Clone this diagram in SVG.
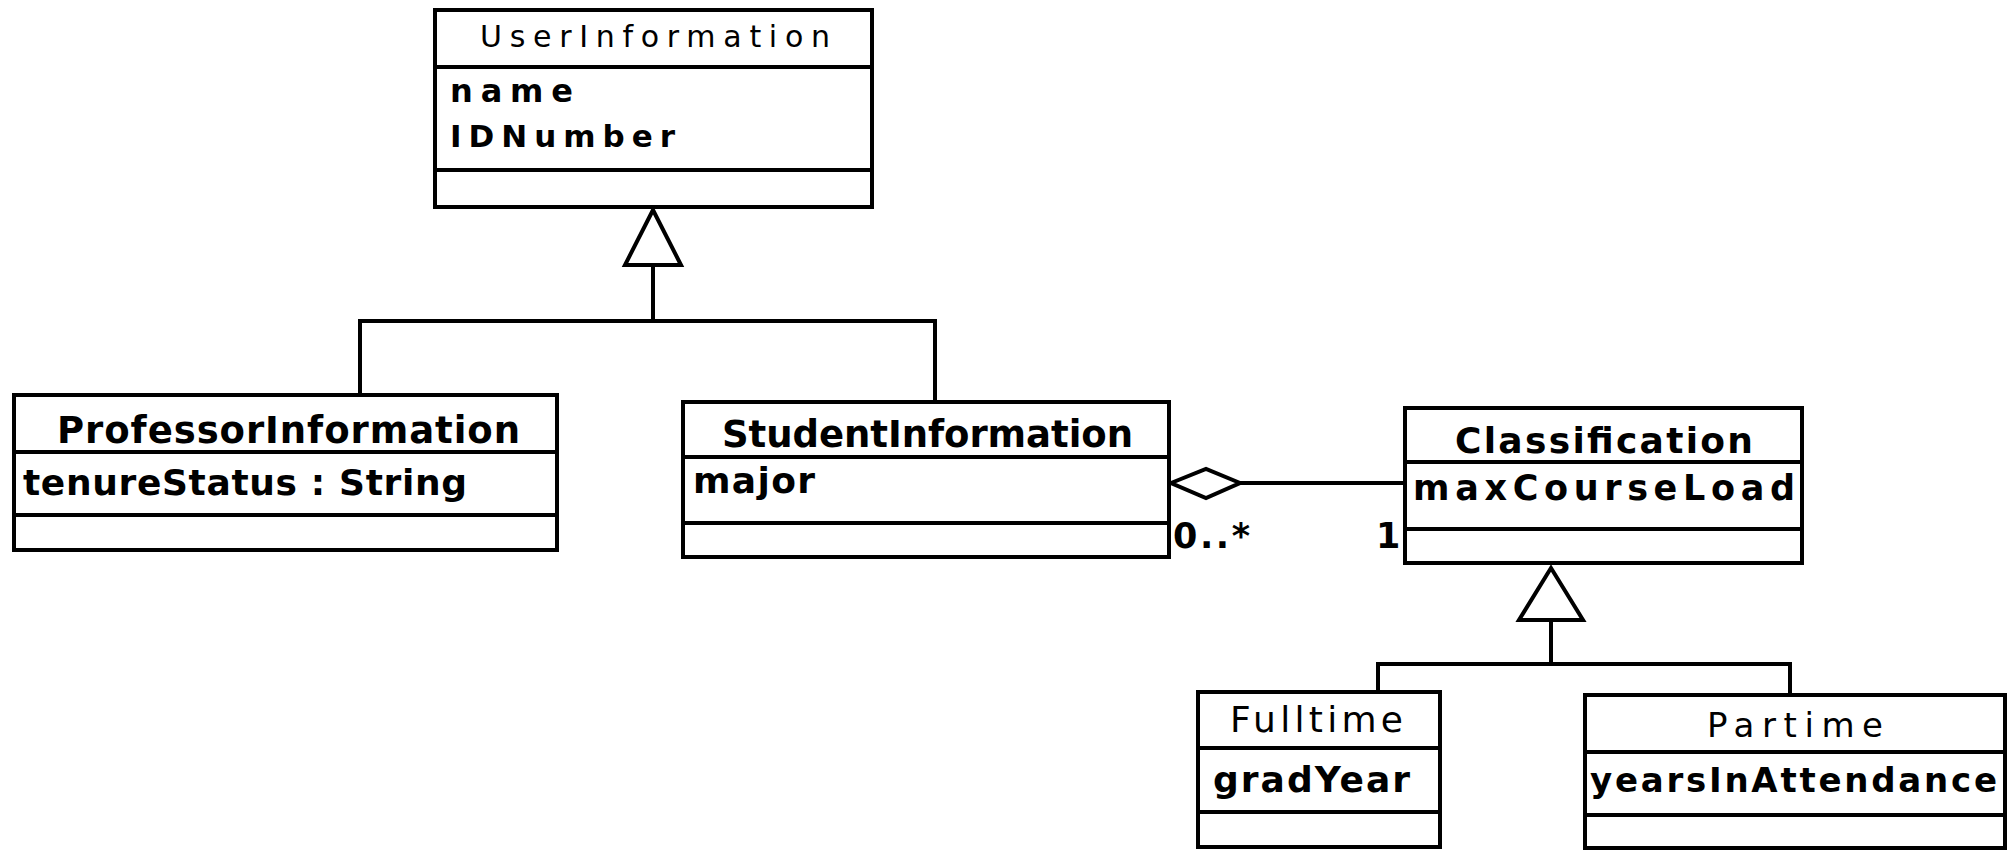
<svg xmlns="http://www.w3.org/2000/svg" width="2008" height="850" viewBox="0 0 2008 850">
<style>
  .box { fill: #ffffff; stroke: #000000; stroke-width: 4; }
  .div { stroke: #000000; stroke-width: 4; fill: none; }
  .conn { stroke: #000000; stroke-width: 4; fill: none; }
  .head { fill: #ffffff; stroke: #000000; stroke-width: 4; stroke-linejoin: miter; }
  text { font-family: "DejaVu Sans", "Liberation Sans", sans-serif; fill: #000000; }
  .b { font-weight: bold; }
</style>
<rect x="0" y="0" width="2008" height="850" fill="#ffffff"/>

<g id="connectors">
  <path class="conn" d="M360,395 V321 H935 V402"/>
  <path class="conn" d="M653,321 V265"/>
  <polygon class="head" points="653,210 625,265 681,265"/>
  <path class="conn" d="M1240,483 H1405"/>
  <polygon class="head" points="1171,483 1206,469 1240,483 1206,498"/>
  <path class="conn" d="M1378,692 V664 H1790 V695"/>
  <path class="conn" d="M1551,664 V620"/>
  <polygon class="head" points="1551,568 1519,620 1583,620"/>
  <text class="b" x="1173" y="548" font-size="35" textLength="77" lengthAdjust="spacing">0..*</text>
  <text class="b" x="1376" y="548" font-size="35">1</text>
</g>

<g id="UserInformation">
  <rect class="box" x="435" y="10" width="437" height="197"/>
  <line class="div" x1="435" y1="67" x2="872" y2="67"/>
  <line class="div" x1="435" y1="170" x2="872" y2="170"/>
  <text x="480" y="47" font-size="30" textLength="350" lengthAdjust="spacing">UserInformation</text>
  <text class="b" x="450" y="102" font-size="32" textLength="123" lengthAdjust="spacing">name</text>
  <text class="b" x="450" y="147" font-size="31" textLength="225" lengthAdjust="spacing">IDNumber</text>
</g>

<g id="ProfessorInformation">
  <rect class="box" x="14" y="395" width="543" height="155"/>
  <line class="div" x1="14" y1="452" x2="557" y2="452"/>
  <line class="div" x1="14" y1="515" x2="557" y2="515"/>
  <text class="b" x="57" y="443" font-size="37" textLength="463" lengthAdjust="spacing">ProfessorInformation</text>
  <text class="b" x="23" y="495" font-size="36" textLength="444" lengthAdjust="spacing">tenureStatus : String</text>
</g>

<g id="StudentInformation">
  <rect class="box" x="683" y="402" width="486" height="155"/>
  <line class="div" x1="683" y1="457" x2="1169" y2="457"/>
  <line class="div" x1="683" y1="523" x2="1169" y2="523"/>
  <text class="b" x="722" y="447" font-size="37" textLength="411" lengthAdjust="spacing">StudentInformation</text>
  <text class="b" x="693" y="493" font-size="36" textLength="122" lengthAdjust="spacing">major</text>
</g>

<g id="Classification">
  <rect class="box" x="1405" y="408" width="397" height="155"/>
  <line class="div" x1="1405" y1="462" x2="1802" y2="462"/>
  <line class="div" x1="1405" y1="529" x2="1802" y2="529"/>
  <text class="b" x="1455" y="453" font-size="36" textLength="298" lengthAdjust="spacing">Classification</text>
  <text class="b" x="1413" y="500" font-size="35" textLength="382" lengthAdjust="spacing">maxCourseLoad</text>
</g>

<g id="Fulltime">
  <rect class="box" x="1198" y="692" width="242" height="155"/>
  <line class="div" x1="1198" y1="748" x2="1440" y2="748"/>
  <line class="div" x1="1198" y1="812" x2="1440" y2="812"/>
  <text x="1230" y="732" font-size="36" textLength="173" lengthAdjust="spacing">Fulltime</text>
  <text class="b" x="1213" y="792" font-size="36" textLength="197" lengthAdjust="spacing">gradYear</text>
</g>

<g id="Partime">
  <rect class="box" x="1585" y="695" width="420" height="153"/>
  <line class="div" x1="1585" y1="752" x2="2005" y2="752"/>
  <line class="div" x1="1585" y1="815" x2="2005" y2="815"/>
  <text x="1707" y="737" font-size="34" textLength="176" lengthAdjust="spacing">Partime</text>
  <text class="b" x="1590" y="792" font-size="34" textLength="407" lengthAdjust="spacing">yearsInAttendance</text>
</g>
</svg>
